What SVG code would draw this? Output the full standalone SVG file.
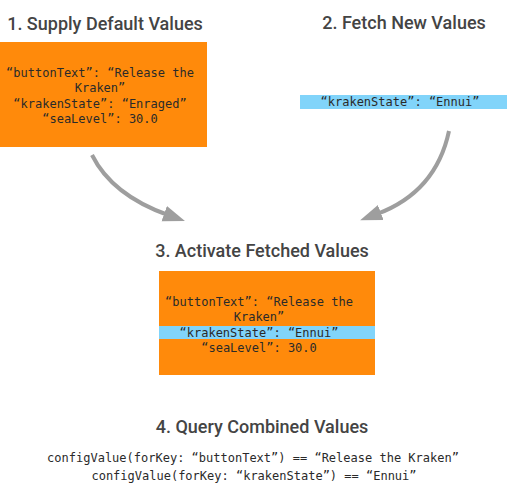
<svg xmlns="http://www.w3.org/2000/svg" width="507" height="500" viewBox="0 0 507 500">
<style>
.title{font-family:Roboto,"Liberation Sans",sans-serif;font-weight:500;font-size:18px;fill:#444444;text-anchor:middle}
.code{font-family:"DejaVu Sans Mono","Liberation Mono",monospace;font-size:12px;fill:#2a2a2a;text-anchor:middle}
.orange{fill:#FF8A0B}
.blue{fill:#81D4FA}
.conn{fill:none;stroke:#9E9E9E;stroke-width:4}
</style>
<defs>
<marker id="ah" markerUnits="userSpaceOnUse" markerWidth="24" markerHeight="20" refX="4" refY="10" orient="auto">
<path d="M0,2 L22,10 L0,18 Z" fill="#9E9E9E"/>
</marker>
</defs>
<rect width="507" height="500" fill="#ffffff"/>
<g id="step1">
<text class="title" x="105" y="30">1. Supply Default Values</text>
<rect class="orange" x="0" y="42" width="207" height="105"/>
<text class="code" x="100" y="77">“buttonText”: “Release the</text>
<text class="code" x="100" y="92">Kraken”</text>
<text class="code" x="100" y="108">“krakenState”: “Enraged”</text>
<text class="code" x="100" y="123">“seaLevel”: 30.0</text>
</g>
<g id="step2">
<text class="title" x="404" y="29">2. Fetch New Values</text>
<rect class="blue" x="300" y="95" width="207" height="14"/>
<text class="code" x="400" y="106">“krakenState”: “Ennui”</text>
</g>
<g id="step3">
<text class="title" x="262" y="257">3. Activate Fetched Values</text>
<rect class="orange" x="159" y="271" width="216" height="104"/>
<rect class="blue" x="159" y="326" width="216" height="13"/>
<text class="code" x="259" y="306">“buttonText”: “Release the</text>
<text class="code" x="259" y="321">Kraken”</text>
<text class="code" x="259" y="337">“krakenState”: “Ennui”</text>
<text class="code" x="259" y="352">“seaLevel”: 30.0</text>
</g>
<g id="step4">
<text class="title" x="262" y="433">4. Query Combined Values</text>
<text class="code" x="253" y="462">configValue(forKey: “buttonText”) == “Release the Kraken”</text>
<text class="code" x="254" y="480">configValue(forKey: “krakenState”) == “Ennui”</text>
</g>
<g id="connectors">
<path class="conn" d="M92,155 Q112,195 168,215" marker-end="url(#ah)"/>
<path class="conn" d="M449,131 Q436,192 377,214" marker-end="url(#ah)"/>
</g>
</svg>
